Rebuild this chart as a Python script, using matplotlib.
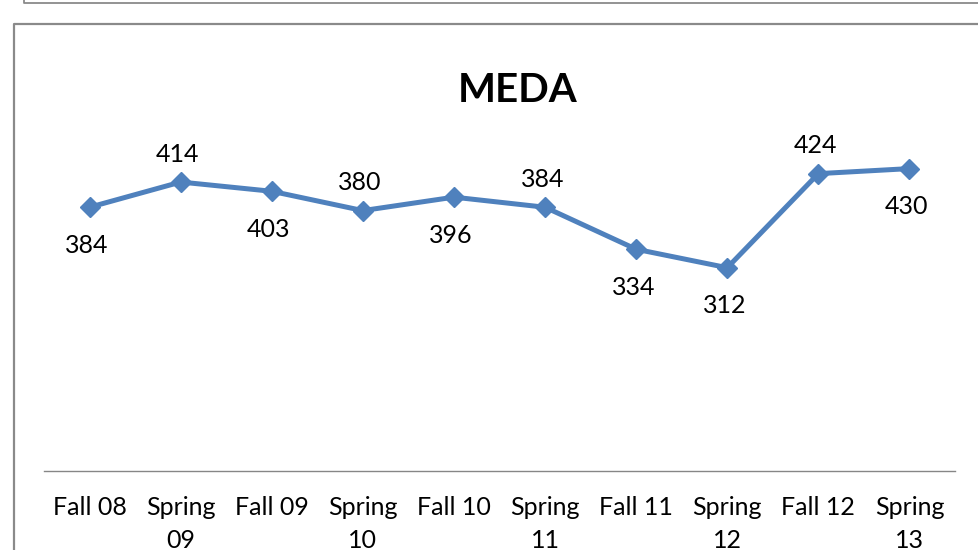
import matplotlib
matplotlib.use("Agg")
import matplotlib.pyplot as plt
from matplotlib.lines import Line2D

# data
semesters = ["Fall 08", "Spring\n09", "Fall 09", "Spring\n10", "Fall 10",
             "Spring\n11", "Fall 11", "Spring\n12", "Fall 12", "Spring\n13"]
students = [384, 414, 403, 380, 396, 384, 334, 312, 424, 430]
label_side = ["below", "above", "below", "above", "below",
              "above", "below", "below", "above", "below"]

plt.rcParams['font.family'] = ['Lato', 'DejaVu Sans']
linecol = "#4f81bd"
framecol = "#8a8a8a"

W, H = 979, 550
fig = plt.figure(figsize=(W/100, H/100), dpi=100, facecolor="white")

def fx(px): return px / W
def fy(py): return 1 - py / H

# frame bits of the neighbouring charts (screenshot of a document)
fig.add_artist(Line2D([fx(24), fx(24), fx(W+5)], [fy(-5), fy(3), fy(3)],
                      transform=fig.transFigure, color=framecol, lw=1.3))
fig.add_artist(Line2D([fx(14), fx(14), fx(W+5)], [fy(H+5), fy(24), fy(24)],
                      transform=fig.transFigure, color=framecol, lw=1.6))

ax = fig.add_axes([fx(44), fy(471), fx(955) - fx(44), fy(135) - fy(471)])
x = list(range(len(students)))
ax.plot(x, students, color=linecol, lw=3.6, marker="D", markersize=10,
        markerfacecolor=linecol, markeredgecolor=linecol)

for xi, v, side in zip(x, students, label_side):
    off = 28 if side == "above" else -38
    ax.annotate(str(v), (xi, v), xytext=(-2, off * 0.72), textcoords="offset points",
                ha="center", va="center", fontsize=18, color="black")

ax.set_xlim(-0.5, len(students) - 0.5)
ax.set_ylim(70, 470)
ax.set_xticks(x)
ax.set_xticklabels(semesters, fontsize=18, linespacing=1.55)
ax.tick_params(axis="x", length=0, pad=18)
ax.set_yticks([])
for s in ["top", "left", "right"]:
    ax.spines[s].set_visible(False)
ax.spines["bottom"].set_color("#868686")
ax.spines["bottom"].set_linewidth(1.0)
ax.patch.set_alpha(0)

fig.text(fx(518), fy(102), "MEDA", ha="center", va="baseline",
         fontsize=29, fontweight="bold", color="black")

fig.savefig("out.png", dpi=100, facecolor="white")
